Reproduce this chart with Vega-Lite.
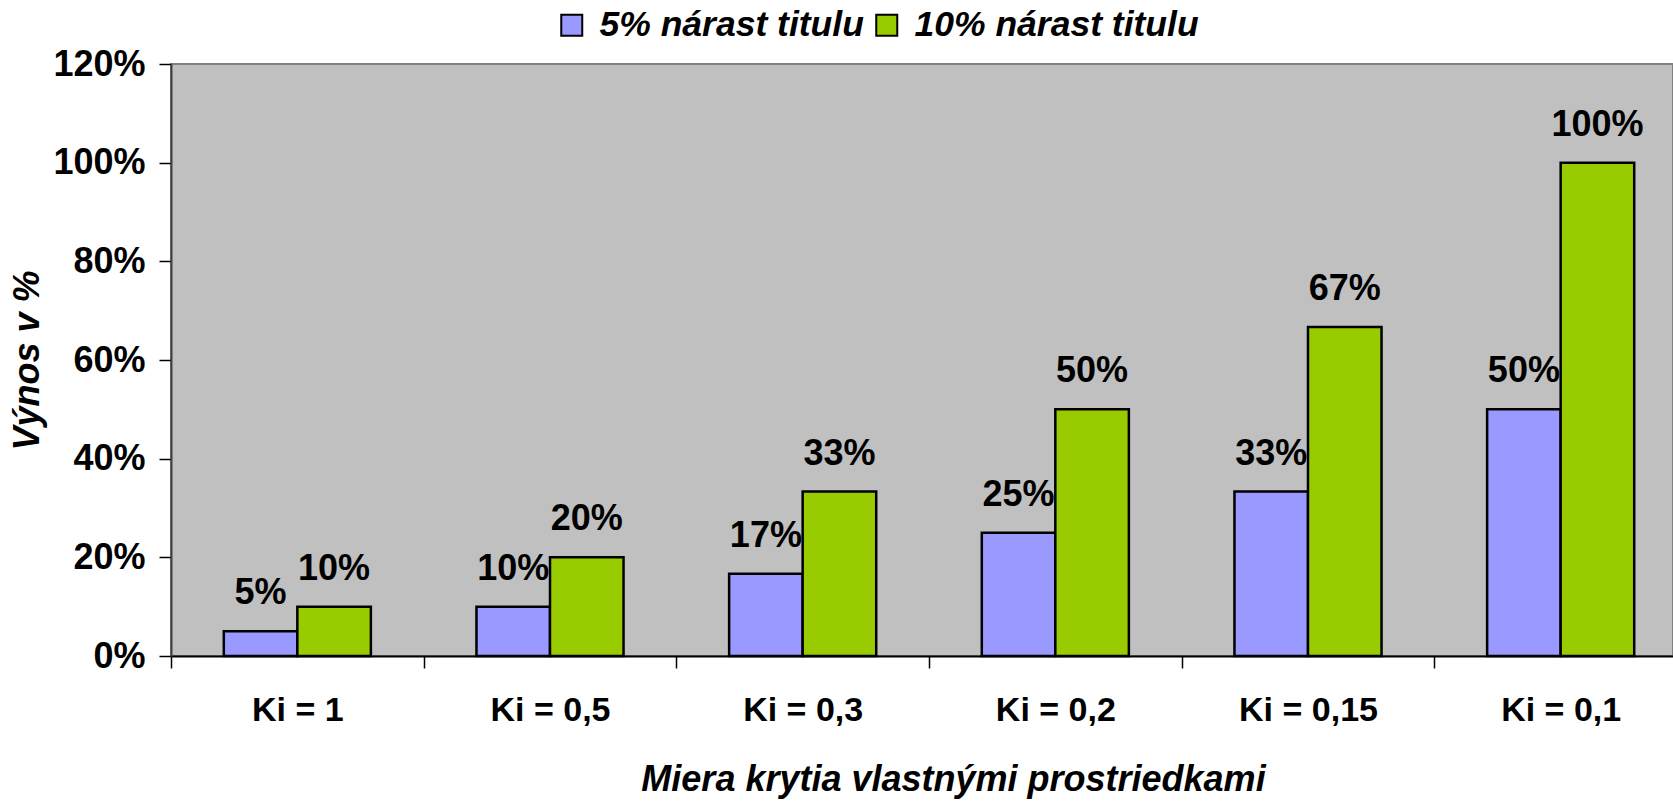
{
  "$schema": "https://vega.github.io/schema/vega-lite/v6.json",
  "width": 1502,
  "height": 592,
  "autosize": {"type": "none"},
  "padding": {"left": 171, "top": 64, "right": 0, "bottom": 146},
  "background": "white",
  "config": {
    "view": {"fill": "#C0C0C0", "stroke": "#808080", "strokeWidth": 2},
    "font": "Liberation Sans"
  },
  "data": {
    "values": [
      {"ki": "Ki = 1", "series": "5% nárast titulu", "value": 0.05},
      {"ki": "Ki = 1", "series": "10% nárast titulu", "value": 0.10},
      {"ki": "Ki = 0,5", "series": "5% nárast titulu", "value": 0.10},
      {"ki": "Ki = 0,5", "series": "10% nárast titulu", "value": 0.20},
      {"ki": "Ki = 0,3", "series": "5% nárast titulu", "value": 0.1667},
      {"ki": "Ki = 0,3", "series": "10% nárast titulu", "value": 0.3333},
      {"ki": "Ki = 0,2", "series": "5% nárast titulu", "value": 0.25},
      {"ki": "Ki = 0,2", "series": "10% nárast titulu", "value": 0.50},
      {"ki": "Ki = 0,15", "series": "5% nárast titulu", "value": 0.3333},
      {"ki": "Ki = 0,15", "series": "10% nárast titulu", "value": 0.6667},
      {"ki": "Ki = 0,1", "series": "5% nárast titulu", "value": 0.50},
      {"ki": "Ki = 0,1", "series": "10% nárast titulu", "value": 1.00}
    ]
  },
  "encoding": {
    "x": {
      "field": "ki",
      "type": "nominal",
      "sort": ["Ki = 1", "Ki = 0,5", "Ki = 0,3", "Ki = 0,2", "Ki = 0,15", "Ki = 0,1"],
      "scale": {"range": [0, 1516], "paddingInner": 0, "paddingOuter": 0},
      "title": "Miera krytia vlastnými prostriedkami",
      "axis": {
        "labelAngle": 0,
        "labelFont": "Liberation Sans",
        "labelFontSize": 34,
        "labelFontWeight": "bold",
        "labelColor": "black",
        "labelPadding": 25,
        "tickBand": "extent",
        "tickSize": 12,
        "tickColor": "black",
        "tickWidth": 1.5,
        "domainColor": "black",
        "domainWidth": 2,
        "titleFont": "Liberation Sans",
        "titleFontSize": 36,
        "titleFontStyle": "italic",
        "titleFontWeight": "bold",
        "titleColor": "black",
        "titlePadding": 35,
        "titleX": 782,
        "titleAnchor": "middle"
      }
    },
    "xOffset": {
      "field": "series",
      "type": "nominal",
      "sort": ["5% nárast titulu", "10% nárast titulu"],
      "scale": {"paddingInner": 0, "paddingOuter": 0.718}
    },
    "y": {
      "field": "value",
      "type": "quantitative",
      "scale": {"domain": [0, 1.2], "nice": false},
      "title": "Výnos v %",
      "axis": {
        "values": [0, 0.2, 0.4, 0.6, 0.8, 1.0, 1.2],
        "format": ".0%",
        "grid": false,
        "labelFont": "Liberation Sans",
        "labelFontSize": 36,
        "labelFontWeight": "bold",
        "labelColor": "black",
        "labelPadding": 14,
        "tickSize": 12,
        "tickColor": "black",
        "tickWidth": 1.5,
        "domainColor": "#404040",
        "domainWidth": 2,
        "titleFont": "Liberation Sans",
        "titleFontSize": 36,
        "titleFontStyle": "italic",
        "titleFontWeight": "bold",
        "titleColor": "black",
        "titlePadding": 6
      }
    }
  },
  "layer": [
    {
      "mark": {"type": "bar", "stroke": "black", "strokeWidth": 2.5},
      "encoding": {
        "color": {
          "field": "series",
          "type": "nominal",
          "scale": {"domain": ["5% nárast titulu", "10% nárast titulu"], "range": ["#9999FF", "#99CC00"]},
          "legend": {
            "orient": "none",
            "legendX": 383,
            "legendY": -57,
            "direction": "horizontal",
            "title": null,
            "symbolType": "square",
            "symbolSize": 441,
            "symbolStrokeColor": "black",
            "symbolStrokeWidth": 2,
            "symbolOpacity": 1,
            "labelFont": "Liberation Sans",
            "labelFontSize": 35.5,
            "labelFontStyle": "italic",
            "labelFontWeight": "bold",
            "labelColor": "black",
            "labelOffset": 10,
            "columnPadding": 5,
            "labelLimit": 0,
            "padding": 0
          }
        }
      }
    },
    {
      "mark": {"type": "text", "dy": -27, "baseline": "alphabetic", "fontSize": 36, "fontWeight": "bold", "font": "Liberation Sans", "color": "black"},
      "encoding": {
        "text": {"field": "value", "type": "quantitative", "format": ".0%"}
      }
    }
  ]
}
